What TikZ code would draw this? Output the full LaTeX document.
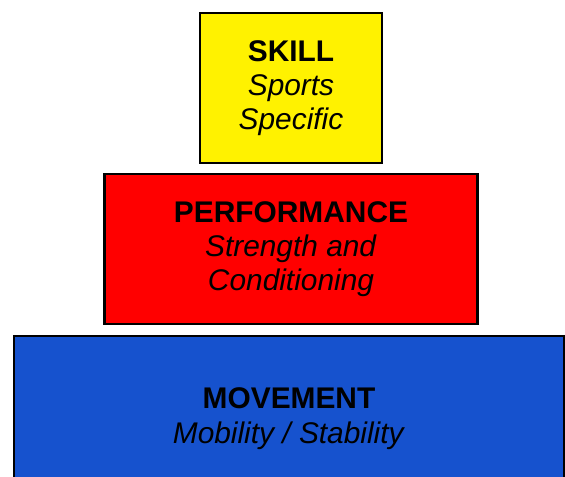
\documentclass[tikz,border=0pt]{standalone}
\usepackage{fontspec}
\setmainfont{Liberation Sans}
\usepackage{xcolor}
\usepackage{tikz}
\usetikzlibrary{positioning}
\definecolor{movblue}{RGB}{22,82,206}
\tikzset{
    tier/.style={draw=black, line width=1.2pt, rectangle, font=\fontsize{17}{19.5}\selectfont, align=center, inner sep=0pt}
}

\begin{document}
\begin{tikzpicture}[node distance=0.2cm]
    \clip (0,0) rectangle (11.3,-9.52);
    \fill[white] (0,0) rectangle (11.3,-9.52);
    \node (skill) [tier, fill=yellow, minimum width=3.64cm, minimum height=3.0cm] at (5.82,-1.76) {\textbf{SKILL}\\\textit{Sports}\\\textit{Specific}};
    \node (perf) [tier, fill=red, minimum width=7.46cm, minimum height=3.0cm, below=0.18cm of skill] {\textbf{PERFORMANCE}\\\textit{Strength and}\\\textit{Conditioning}};
    \node (move) [tier, fill=movblue, minimum width=11.0cm, minimum height=3.3cm, below=0.2cm of perf, xshift=-0.04cm] {\textbf{MOVEMENT}\\\textit{Mobility / Stability}};
\end{tikzpicture}
\end{document}
